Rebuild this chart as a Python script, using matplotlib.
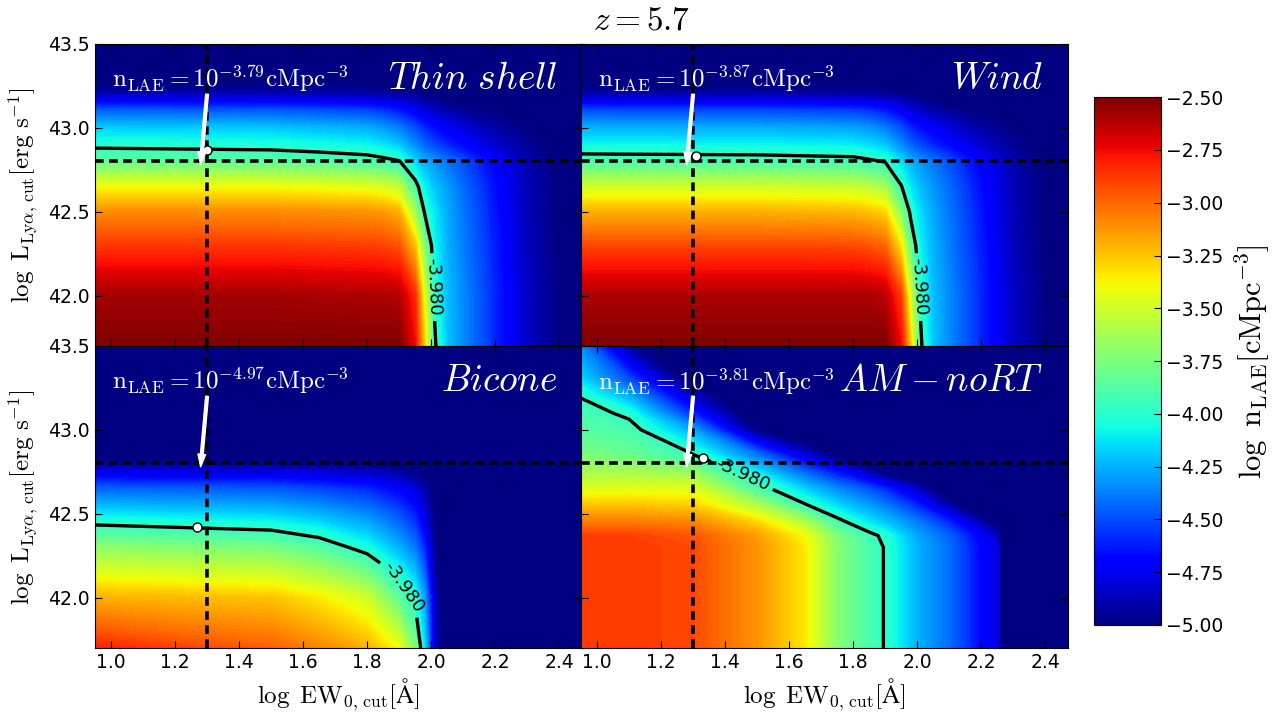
import numpy as np
import matplotlib
matplotlib.use('Agg')
import matplotlib.pyplot as plt
from matplotlib.colors import Normalize
from matplotlib.cm import ScalarMappable
from matplotlib.ticker import FuncFormatter

plt.rcParams['mathtext.fontset'] = 'cm'

ew_nodes = [0.95, 1.5, 1.65, 1.8, 1.85, 1.9, 1.95, 1.98, 2.01, 2.05, 2.1, 2.2, 2.3, 2.47]
lya_nodes = [41.7, 42.0, 42.3, 42.5, 42.65, 42.8, 42.9, 43.0, 43.1, 43.2, 43.3, 43.5]

# log n_LAE, one row per lya node
thin_shell = [
    [-2.50, -2.50, -2.50, -2.50, -2.50, -2.50, -2.75, -3.30, -3.95, -4.20, -4.35, -4.60, -4.85, -5.10],
    [-2.58, -2.58, -2.59, -2.60, -2.60, -2.62, -2.85, -3.45, -4.00, -4.22, -4.35, -4.60, -4.85, -5.10],
    [-2.88, -2.88, -2.89, -2.90, -2.91, -2.95, -3.25, -3.75, -4.08, -4.25, -4.38, -4.62, -4.87, -5.10],
    [-3.10, -3.10, -3.11, -3.12, -3.14, -3.20, -3.65, -4.00, -4.12, -4.27, -4.40, -4.64, -4.88, -5.10],
    [-3.40, -3.40, -3.42, -3.45, -3.48, -3.55, -3.92, -4.10, -4.20, -4.30, -4.43, -4.66, -4.88, -5.10],
    [-3.83, -3.85, -3.88, -3.91, -3.935, -3.97, -4.15, -4.25, -4.32, -4.40, -4.50, -4.70, -4.90, -5.10],
    [-4.02, -4.04, -4.06, -4.09, -4.13, -4.20, -4.35, -4.45, -4.52, -4.60, -4.68, -4.83, -4.95, -5.10],
    [-4.18, -4.20, -4.23, -4.26, -4.31, -4.38, -4.50, -4.60, -4.66, -4.72, -4.80, -4.92, -5.00, -5.10],
    [-4.45, -4.47, -4.49, -4.52, -4.56, -4.62, -4.72, -4.80, -4.85, -4.90, -4.95, -5.00, -5.05, -5.10],
    [-4.88, -4.88, -4.89, -4.90, -4.91, -4.93, -4.96, -5.00, -5.02, -5.05, -5.08, -5.10, -5.10, -5.10],
    [-5.10, -5.10, -5.10, -5.10, -5.10, -5.10, -5.10, -5.10, -5.10, -5.10, -5.10, -5.10, -5.10, -5.10],
    [-5.10, -5.10, -5.10, -5.10, -5.10, -5.10, -5.10, -5.10, -5.10, -5.10, -5.10, -5.10, -5.10, -5.10],
]

wind = [
    [-2.50, -2.50, -2.50, -2.50, -2.50, -2.50, -2.75, -3.30, -3.95, -4.20, -4.35, -4.60, -4.85, -5.10],
    [-2.60, -2.60, -2.60, -2.60, -2.60, -2.63, -2.90, -3.50, -4.00, -4.22, -4.35, -4.60, -4.85, -5.10],
    [-2.92, -2.92, -2.92, -2.93, -2.95, -3.00, -3.35, -3.85, -4.10, -4.25, -4.38, -4.62, -4.87, -5.10],
    [-3.20, -3.20, -3.21, -3.22, -3.25, -3.30, -3.72, -4.02, -4.15, -4.28, -4.40, -4.64, -4.88, -5.10],
    [-3.50, -3.50, -3.51, -3.53, -3.57, -3.63, -3.97, -4.12, -4.22, -4.32, -4.43, -4.66, -4.88, -5.10],
    [-3.90, -3.91, -3.92, -3.93, -3.955, -3.99, -4.15, -4.25, -4.32, -4.40, -4.50, -4.70, -4.90, -5.10],
    [-4.08, -4.09, -4.10, -4.11, -4.15, -4.20, -4.35, -4.45, -4.52, -4.60, -4.68, -4.83, -4.95, -5.10],
    [-4.25, -4.26, -4.27, -4.29, -4.32, -4.38, -4.50, -4.60, -4.66, -4.72, -4.80, -4.92, -5.00, -5.10],
    [-4.50, -4.51, -4.52, -4.54, -4.57, -4.62, -4.72, -4.80, -4.85, -4.90, -4.95, -5.00, -5.05, -5.10],
    [-4.90, -4.90, -4.91, -4.92, -4.92, -4.94, -4.97, -5.00, -5.02, -5.05, -5.08, -5.10, -5.10, -5.10],
    [-5.10, -5.10, -5.10, -5.10, -5.10, -5.10, -5.10, -5.10, -5.10, -5.10, -5.10, -5.10, -5.10, -5.10],
    [-5.10, -5.10, -5.10, -5.10, -5.10, -5.10, -5.10, -5.10, -5.10, -5.10, -5.10, -5.10, -5.10, -5.10],
]

bicone = [
    [-2.82, -2.98, -3.08, -3.20, -3.30, -3.40, -3.75, -4.15, -4.80, -5.20, -5.20, -5.20, -5.20, -5.20],
    [-3.20, -3.25, -3.35, -3.50, -3.67, -3.85, -4.02, -4.30, -4.85, -5.20, -5.20, -5.20, -5.20, -5.20],
    [-3.70, -3.77, -3.87, -4.05, -4.15, -4.25, -4.40, -4.60, -4.95, -5.20, -5.20, -5.20, -5.20, -5.20],
    [-4.12, -4.18, -4.25, -4.35, -4.42, -4.50, -4.62, -4.80, -5.00, -5.20, -5.20, -5.20, -5.20, -5.20],
    [-4.45, -4.48, -4.53, -4.60, -4.65, -4.70, -4.80, -4.90, -5.05, -5.20, -5.20, -5.20, -5.20, -5.20],
    [-4.95, -4.95, -4.97, -5.00, -5.02, -5.05, -5.10, -5.15, -5.20, -5.20, -5.20, -5.20, -5.20, -5.20],
    [-5.20, -5.20, -5.20, -5.20, -5.20, -5.20, -5.20, -5.20, -5.20, -5.20, -5.20, -5.20, -5.20, -5.20],
    [-5.20, -5.20, -5.20, -5.20, -5.20, -5.20, -5.20, -5.20, -5.20, -5.20, -5.20, -5.20, -5.20, -5.20],
    [-5.20, -5.20, -5.20, -5.20, -5.20, -5.20, -5.20, -5.20, -5.20, -5.20, -5.20, -5.20, -5.20, -5.20],
    [-5.20, -5.20, -5.20, -5.20, -5.20, -5.20, -5.20, -5.20, -5.20, -5.20, -5.20, -5.20, -5.20, -5.20],
    [-5.20, -5.20, -5.20, -5.20, -5.20, -5.20, -5.20, -5.20, -5.20, -5.20, -5.20, -5.20, -5.20, -5.20],
    [-5.20, -5.20, -5.20, -5.20, -5.20, -5.20, -5.20, -5.20, -5.20, -5.20, -5.20, -5.20, -5.20, -5.20],
]

# the no-RT abundance matching map has its own grid
am_ew_nodes = [0.95, 1.1, 1.3, 1.5, 1.65, 1.75, 1.85, 1.9, 2.0, 2.1, 2.2, 2.25, 2.27, 2.47]
am_lya_nodes = [41.7, 42.3, 42.37, 42.45, 42.55, 42.65, 42.75, 42.85, 43.0, 43.1, 43.2, 43.3, 43.5]
am_nort = [
    [-2.88, -2.88, -2.92, -3.12, -3.35, -3.72, -3.90, -3.99, -4.25, -4.42, -4.68, -4.78, -5.20, -5.20],
    [-2.88, -2.88, -2.92, -3.12, -3.35, -3.72, -3.90, -3.99, -4.25, -4.42, -4.68, -4.78, -5.20, -5.20],
    [-2.90, -2.90, -2.95, -3.15, -3.40, -3.75, -3.93, -4.02, -4.28, -4.45, -4.72, -4.85, -5.20, -5.20],
    [-3.05, -3.05, -3.08, -3.30, -3.60, -3.92, -4.12, -4.20, -4.38, -4.60, -4.90, -5.10, -5.20, -5.20],
    [-3.25, -3.25, -3.28, -3.60, -3.96, -4.15, -4.30, -4.38, -4.60, -4.90, -5.20, -5.20, -5.20, -5.20],
    [-3.47, -3.45, -3.45, -3.90, -4.18, -4.35, -4.50, -4.60, -4.85, -5.20, -5.20, -5.20, -5.20, -5.20],
    [-3.62, -3.62, -3.68, -4.12, -4.45, -4.65, -4.90, -5.05, -5.20, -5.20, -5.20, -5.20, -5.20, -5.20],
    [-3.75, -3.80, -3.97, -4.40, -4.80, -5.05, -5.20, -5.20, -5.20, -5.20, -5.20, -5.20, -5.20, -5.20],
    [-3.86, -3.91, -4.28, -5.00, -5.20, -5.20, -5.20, -5.20, -5.20, -5.20, -5.20, -5.20, -5.20, -5.20],
    [-3.90, -4.02, -4.60, -5.20, -5.20, -5.20, -5.20, -5.20, -5.20, -5.20, -5.20, -5.20, -5.20, -5.20],
    [-3.99, -4.25, -4.85, -5.20, -5.20, -5.20, -5.20, -5.20, -5.20, -5.20, -5.20, -5.20, -5.20, -5.20],
    [-4.15, -4.50, -5.10, -5.20, -5.20, -5.20, -5.20, -5.20, -5.20, -5.20, -5.20, -5.20, -5.20, -5.20],
    [-4.35, -4.95, -5.20, -5.20, -5.20, -5.20, -5.20, -5.20, -5.20, -5.20, -5.20, -5.20, -5.20, -5.20],
]

names = [r'$Thin\ shell$', r'$Wind$', r'$Bicone$', r'$AM-noRT$']
n_lae = [-3.79, -3.87, -4.97, -3.81]
dot_ew = [1.30, 1.31, 1.27, 1.33]
dot_lya = [42.87, 42.83, 42.42, 42.835]
label_ew = [2.0, 2.0, 1.92, 1.45]
label_lya = [42.05, 42.05, 42.07, 42.72]
level = -3.98
ew_cut = 1.3
lya_cut = 42.8
arrow_from = (1.30, 43.2)
arrow_to = (1.28, 42.78)

maps = [(ew_nodes, lya_nodes, thin_shell),
        (ew_nodes, lya_nodes, wind),
        (ew_nodes, lya_nodes, bicone),
        (am_ew_nodes, am_lya_nodes, am_nort)]

fig = plt.figure(figsize=(12.84, 7.2), dpi=100)
w, h = 0.379, 0.4195
boxes = [(0.074, 0.5195), (0.4525, 0.5195), (0.074, 0.1), (0.4525, 0.1)]
bands = np.linspace(-5, -2.5, 126)

for i, (x0, y0) in enumerate(boxes):
    ax = fig.add_axes([x0, y0, w, h])
    xs, ys, zz = maps[i]
    cf = ax.contourf(xs, ys, np.array(zz), levels=bands, cmap='jet', extend='both')
    cf.set_edgecolor('face')
    cf.set_linewidth(0.3)
    cs = ax.contour(xs, ys, np.array(zz), levels=[level], colors='k',
                    linewidths=2.4, linestyles='solid')
    ax.clabel(cs, fmt='%.3f', fontsize=13, inline=True,
              manual=[(label_ew[i], label_lya[i])])

    ax.plot([ew_cut, ew_cut], [41.7, 43.5], color='k', lw=2.6, dashes=(2.4, 1.5))
    ax.plot([0.95, 2.47], [lya_cut, lya_cut], color='k', lw=2.6, dashes=(2.4, 1.5))
    ax.annotate('', xy=arrow_to, xytext=arrow_from,
                arrowprops=dict(facecolor='white', edgecolor='white', width=2.0,
                                headwidth=5.5, headlength=9, shrink=0))
    ax.plot(dot_ew[i], dot_lya[i], 'o', ms=6.5, mfc='white', mec='k', mew=1)

    ax.text(0.035, 0.855, r'$\rm n_{LAE}=10^{%.2f}cMpc^{-3}$' % n_lae[i],
            transform=ax.transAxes, color='white', fontsize=18)
    ax.text(0.95, 0.85, names[i], transform=ax.transAxes, color='white',
            fontsize=27, ha='right')

    ax.set_xlim(0.95, 2.47)
    ax.set_ylim(41.7, 43.5)
    ax.set_xticks([1.0, 1.2, 1.4, 1.6, 1.8, 2.0, 2.2, 2.4])
    ax.set_yticks([42.0, 42.5, 43.0, 43.5])
    ax.tick_params(direction='in', top=True, right=True, length=5, labelsize=13.5)
    if i % 2 == 1:
        ax.set_yticklabels([])
    else:
        ax.set_ylabel(r'$\log\ \mathrm{L_{Ly\alpha,\,cut}}[\mathrm{erg\ s^{-1}}]$',
                      fontsize=18, labelpad=6)
    if i < 2:
        ax.set_xticklabels([])
    else:
        ax.set_xlabel(r'$\log\ \mathrm{EW_{0,\,cut}}[\mathrm{\AA}]$', fontsize=18, labelpad=3)

cax = fig.add_axes([0.852, 0.132, 0.052, 0.733])
sm = ScalarMappable(norm=Normalize(-5, -2.5), cmap='jet')
cb = fig.colorbar(sm, cax=cax, ticks=np.arange(-5.0, -2.49, 0.25))
cb.ax.yaxis.set_major_formatter(FuncFormatter(lambda v, p: ('%.2f' % v).replace('-', '\u2212')))
cb.ax.tick_params(direction='in', length=5, labelsize=13.5)
cb.set_label(r'$\log\ \mathrm{n_{LAE}}[\mathrm{cMpc^{-3}}]$', fontsize=22, labelpad=8)

fig.suptitle(r'$z=5.7$', fontsize=24, y=0.995)

fig.savefig('out.png', dpi=100)
